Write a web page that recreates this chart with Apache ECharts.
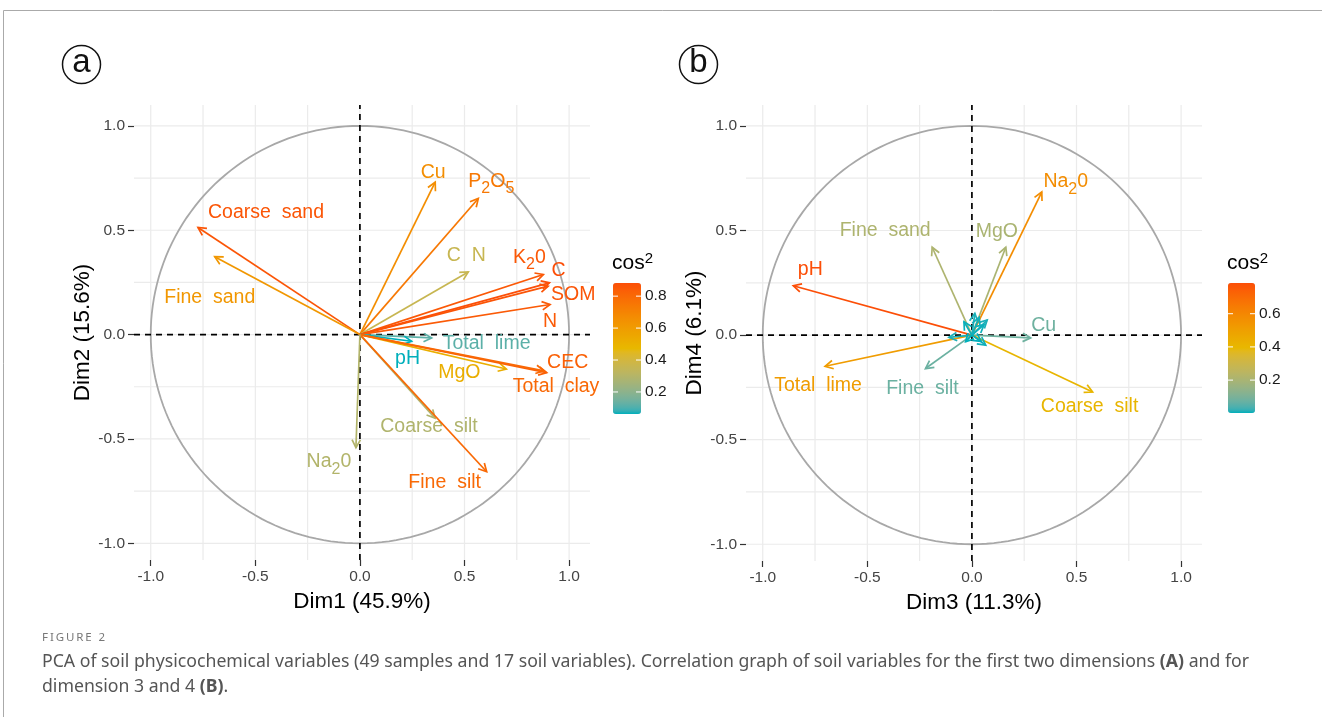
<!DOCTYPE html>
<html><head><meta charset="utf-8">
<script src="https://cdn.jsdelivr.net/npm/echarts@6/dist/echarts.min.js"></script>
<style>html,body{margin:0;padding:0;background:#fff}#c{width:1322px;height:717px}</style>
</head><body><div id="c"></div>
<script>
// ---------- DATA ----------
// Panel (a): Dim1 / Dim2 coordinates of the 17 soil variables
const varsA = ['Coarse sand','Fine sand','Cu','P2O5','C N','K20','C','SOM','N','Total lime','pH','MgO','CEC','Total clay','Coarse silt','Fine silt','Na20'];
const dim1  = [-0.774,-0.694, 0.360, 0.566, 0.518, 0.877, 0.906, 0.900, 0.909, 0.343, 0.247, 0.700, 0.893, 0.880, 0.359, 0.606,-0.019];
const dim2  = [ 0.513, 0.373, 0.730, 0.652, 0.300, 0.288, 0.248, 0.232, 0.144,-0.016,-0.032,-0.165,-0.182,-0.174,-0.400,-0.657,-0.542];
// Panel (b): Dim3 / Dim4 coordinates
const varsB = ['Na20','MgO','Fine sand','pH','Cu','Total lime','Fine silt','Coarse silt','Coarse sand','Total clay','SOM','C','N','C N','P2O5','K20','CEC'];
const dim3  = [ 0.334, 0.162,-0.190,-0.854, 0.281,-0.702,-0.222, 0.577,-0.110, 0.066, 0.073, 0.058, 0.014,-0.038,-0.030, 0.035, 0.045];
const dim4  = [ 0.684, 0.420, 0.420, 0.236,-0.013,-0.149,-0.160,-0.272,-0.011,-0.048, 0.072, 0.050, 0.104, 0.064,-0.032, 0.085,-0.030];
const axisTitles = ['Dim1 (45.9%)','Dim2 (15.6%)','Dim3 (11.3%)','Dim4 (6.1%)'];
const tickVals = [-1.0,-0.5,0.0,0.5,1.0];
const gridVals = [-1.0,-0.75,-0.5,-0.25,0.0,0.25,0.5,0.75,1.0];
const legendTicksA = [0.2,0.4,0.6,0.8];
const legendTicksB = [0.2,0.4,0.6];
const captionHead = 'FIGURE 2';
const captionL1 = ['PCA of soil physicochemical variables (49 samples and 17 soil variables). Correlation graph of soil variables for the first two dimensions ','(A)',' and for'];
const captionL2 = ['dimension 3 and 4 ','(B)','.'];

// ---------- LAYOUT / STYLE ----------
const F = "'Liberation Sans', Arial, Helvetica, sans-serif";
const EXT = {x:[-1.08,1.1], y:[-1.08,1.1]};
const BASE_COLORS = ['#00AFBB','#E7B800','#FC4E07'];
// interpolate gradient stops in CIELAB (as ggplot's gradientn does)
function hex2rgb(h){return [1,3,5].map(i=>parseInt(h.substr(i,2),16));}
function s2l(c){c/=255;return c<=0.04045?c/12.92:Math.pow((c+0.055)/1.055,2.4);}
function l2s(c){const v=c<=0.0031308?12.92*c:1.055*Math.pow(c,1/2.4)-0.055;return Math.round(Math.max(0,Math.min(1,v))*255);}
function rgb2lab(rgb){const [r,g,b]=rgb.map(s2l);
  const x=(0.4124564*r+0.3575761*g+0.1804375*b)/0.95047, y=(0.2126729*r+0.7151522*g+0.0721750*b), z=(0.0193339*r+0.1191920*g+0.9503041*b)/1.08883;
  const f=t=>t>0.008856?Math.cbrt(t):(7.787*t+16/116);
  const fx=f(x),fy=f(y),fz=f(z); return [116*fy-16,500*(fx-fy),200*(fy-fz)];}
function lab2hex(lab){const fy=(lab[0]+16)/116, fx=fy+lab[1]/500, fz=fy-lab[2]/200;
  const fi=t=>t>0.206893?t*t*t:(t-16/116)/7.787;
  const x=fi(fx)*0.95047, y=fi(fy), z=fi(fz)*1.08883;
  const r=3.2404542*x-1.5371385*y-0.4985314*z, g=-0.9692660*x+1.8760108*y+0.0415560*z, b=0.0556434*x-0.2040259*y+1.0572252*z;
  return '#'+[r,g,b].map(l2s).map(v=>v.toString(16).padStart(2,'0')).join('');}
function labRamp(cols, n){
  const labs=cols.map(c=>rgb2lab(hex2rgb(c))); const out=[];
  for(let i=0;i<n;i++){const t=i/(n-1)*(labs.length-1); const k=Math.min(Math.floor(t),labs.length-2); const u=t-k;
    out.push(lab2hex(labs[k].map((v,j)=>v+(labs[k+1][j]-v)*u)));}
  return out;
}
const COLORS = labRamp(BASE_COLORS, 41);
const labelOffA = {'Coarse sand':[68,-15],'Fine sand':[-5,41],'Cu':[-2,-10],'P2O5':[13,-17],'C N':[-2,-16],'K20':[-14,-17],
  'C':[9,-12],'SOM':[25,8],'N':[0,17],'Total lime':[55,6],'pH':[-4,17],'MgO':[-47,4],'CEC':[21,-10],'Total clay':[12,16],
  'Coarse silt':[-6,9],'Fine silt':[-42,11],'Na20':[-27,14]};
const labelOffB = {'Na20':[24,-10],'MgO':[-9,-16],'Fine sand':[-47,-17],'pH':[17,-16],'Cu':[13,-12],'Total lime':[-7,19],
  'Fine silt':[-3,20],'Coarse silt':[-3,15]};
const rich = {
  n:{fontSize:19.5, fontFamily:F},
  s:{fontSize:16, fontFamily:F, padding:[15,0,0,0]}
};
function disp(name){
  if (name==='P2O5') return '{n|P}{s|2}{n|O}{s|5}';
  if (name==='K20') return '{n|K}{s|2}{n|0}';
  if (name==='Na20') return '{n|Na}{s|2}{n|0}';
  return '{n|'+name.replace(/ /g,'  ')+'}';
}
const cos2 = (a,b)=>a.map((v,i)=>v*v+b[i]*b[i]);
const cA = cos2(dim1,dim2), cB = cos2(dim3,dim4);
const minA=Math.min(...cA), maxA=Math.max(...cA), minB=Math.min(...cB), maxB=Math.max(...cB);

function gridRender(params, api){
  const v = api.value(0);
  const a1=api.coord([v,EXT.y[0]]), a2=api.coord([v,EXT.y[1]]);
  const b1=api.coord([EXT.x[0],v]), b2=api.coord([EXT.x[1],v]);
  const st={stroke:'#EBEBEB', lineWidth:1.2};
  return {type:'group', children:[
    {type:'line', shape:{x1:a1[0],y1:a1[1],x2:a2[0],y2:a2[1]}, style:st},
    {type:'line', shape:{x1:b1[0],y1:b1[1],x2:b2[0],y2:b2[1]}, style:st}]};
}
function zeroRender(params, api){
  const a1=api.coord([0,EXT.y[0]]), a2=api.coord([0,EXT.y[1]]);
  const b1=api.coord([EXT.x[0],0]), b2=api.coord([EXT.x[1],0]);
  const st={stroke:'#000', lineWidth:1.7, lineDash:[6,5]};
  return {type:'group', children:[
    {type:'line', shape:{x1:a1[0],y1:a1[1],x2:a2[0],y2:a2[1]}, style:st},
    {type:'line', shape:{x1:b1[0],y1:b1[1],x2:b2[0],y2:b2[1]}, style:st}]};
}
function circleRender(params, api){
  const pts=[];
  for(let t=0;t<=360;t+=2){const r=t*Math.PI/180; pts.push(api.coord([Math.cos(r),Math.sin(r)]));}
  return {type:'polyline', shape:{points:pts}, style:{stroke:'#A8A8A8', lineWidth:1.8, fill:null}};
}
function arrowRender(names, offs){
  return function(params, api){
    const x=api.value(0), y=api.value(1);
    const o=api.coord([0,0]), p=api.coord([x,y]);
    const color=api.visual('color');
    const ang=Math.atan2(p[1]-o[1], p[0]-o[0]);
    const L=9, a=Math.PI/6.5;
    const h1=[p[0]-L*Math.cos(ang-a), p[1]-L*Math.sin(ang-a)];
    const h2=[p[0]-L*Math.cos(ang+a), p[1]-L*Math.sin(ang+a)];
    const name=names[params.dataIndex];
    const children=[
      {type:'line', shape:{x1:o[0],y1:o[1],x2:p[0],y2:p[1]}, style:{stroke:color, lineWidth:1.7}},
      {type:'polyline', shape:{points:[h1,p,h2]}, style:{stroke:color, lineWidth:1.7, fill:null}}
    ];
    const off=offs[name];
    if(off){
      children.push({type:'text', style:{text:disp(name), rich:rich, x:p[0]+off[0], y:p[1]+off[1],
        fill:color, align:'center', verticalAlign:'middle', textAlign:'center', textVerticalAlign:'middle',
        fontFamily:F, fontSize:19.5}});
    }
    return {type:'group', children};
  };
}
function xAx(gi, name){
  return {gridIndex:gi, type:'value', min:EXT.x[0], max:EXT.x[1], name:name, nameLocation:'middle', nameGap:24,
    nameTextStyle:{fontSize:22.5, color:'#000', fontFamily:F},
    splitLine:{show:false}, axisLine:{show:false, onZero:false},
    axisTick:{show:true, customValues:tickVals, length:6, lineStyle:{color:'#333', width:1.2}},
    axisLabel:{customValues:tickVals, formatter:v=>v.toFixed(1), color:'#444', fontSize:15.5, fontFamily:F, margin:9}};
}
function yAx(gi, name){
  return {gridIndex:gi, type:'value', min:EXT.y[0], max:EXT.y[1], name:name, nameLocation:'middle', nameGap:37,
    nameTextStyle:{fontSize:22.5, color:'#000', fontFamily:F},
    splitLine:{show:false}, axisLine:{show:false, onZero:false},
    axisTick:{show:true, customValues:tickVals, length:6, lineStyle:{color:'#333', width:1.2}},
    axisLabel:{customValues:tickVals, formatter:v=>v.toFixed(1), color:'#444', fontSize:15.5, fontFamily:F, margin:9}};
}
function panelSeries(gi, xs, ys, cs, names, offs){
  return [
    {type:'custom', xAxisIndex:gi, yAxisIndex:gi, silent:true, renderItem:gridRender, data:gridVals.map(v=>[v,v]), z:1},
    {type:'custom', xAxisIndex:gi, yAxisIndex:gi, silent:true, renderItem:circleRender, data:[[0,0]], z:2},
    {type:'custom', xAxisIndex:gi, yAxisIndex:gi, silent:true, renderItem:zeroRender, data:[[0,0]], z:3},
    {type:'custom', xAxisIndex:gi, yAxisIndex:gi, silent:true, renderItem:arrowRender(names, offs),
      encode:{x:0,y:1}, data:xs.map((v,i)=>[v, ys[i], cs[i]]), z:4}
  ];
}
const BAR = {a:{left:613, top:283, w:28, h:131}, b:{left:1228, top:283, w:27, h:130}};
function legendGraphics(bar, ticks, mn, mx){
  const g=[];
  ticks.forEach(v=>{
    const y=bar.top+(mx-v)/(mx-mn)*bar.h;
    g.push({type:'line', shape:{x1:bar.left, y1:y, x2:bar.left+5, y2:y}, style:{stroke:'#fff', lineWidth:1}, z:100});
    g.push({type:'line', shape:{x1:bar.left+bar.w-5, y1:y, x2:bar.left+bar.w, y2:y}, style:{stroke:'#fff', lineWidth:1}, z:100});
    g.push({type:'text', x:bar.left+bar.w+4, y:y, style:{text:v.toFixed(1), fill:'#1a1a1a', fontSize:15.5, fontFamily:F, textVerticalAlign:'middle', verticalAlign:'middle'}});
  });
  g.push({type:'text', x:bar.left-1, y:bar.top-20, style:{text:'{n|cos}{p|2}', fill:'#000', textVerticalAlign:'middle', verticalAlign:'middle',
    rich:{n:{fontSize:21, fontFamily:F, lineHeight:24, fill:'#000'}, p:{fontSize:15, fontFamily:F, lineHeight:8, verticalAlign:'top', fill:'#000'}}}});
  return g;
}
function fitSize(parts, family, target){
  const c=document.createElement('canvas').getContext('2d');
  let w=0; parts.forEach((t,i)=>{c.font=(i===1?'bold ':'')+'16px '+family; w+=c.measureText(t).width;});
  return 16*target/w;
}
const CF = "'Noto Sans', 'Open Sans', sans-serif";
const capSize = fitSize(captionL1, CF, 1208);
function capRich(parts, y){
  return {type:'text', x:42, y:y, style:{text:'{t|'+parts[0]+'}{b|'+parts[1]+'}{t|'+parts[2]+'}', textVerticalAlign:'middle', verticalAlign:'middle',
    rich:{t:{fontSize:capSize, fontFamily:CF, fill:'#555'}, b:{fontSize:capSize, fontFamily:CF, fontWeight:'bold', fill:'#555'}}}};
}

const chart = echarts.init(document.getElementById('c'), null, {renderer:'canvas'});
chart.setOption({
  backgroundColor:'#fff',
  animation:false,
  grid:[{left:134, top:105, width:456, height:455}, {left:746, top:105, width:456, height:456}],
  xAxis:[xAx(0, axisTitles[0]), xAx(1, axisTitles[2])],
  yAxis:[yAx(0, axisTitles[1]), yAx(1, axisTitles[3])],
  visualMap:[
    {type:'continuous', seriesIndex:3, dimension:2, min:minA, max:maxA, inRange:{color:COLORS}, calculable:false, hoverLink:false,
      left:BAR.a.left, top:BAR.a.top, itemWidth:BAR.a.w, itemHeight:BAR.a.h, padding:0, textGap:0, show:true},
    {type:'continuous', seriesIndex:7, dimension:2, min:minB, max:maxB, inRange:{color:COLORS}, calculable:false, hoverLink:false,
      left:BAR.b.left, top:BAR.b.top, itemWidth:BAR.b.w, itemHeight:BAR.b.h, padding:0, textGap:0, show:true}
  ],
  series:[...panelSeries(0, dim1, dim2, cA, varsA, labelOffA), ...panelSeries(1, dim3, dim4, cB, varsB, labelOffB)],
  graphic:[
    {type:'line', shape:{x1:3.5,y1:10.5,x2:1322,y2:10.5}, style:{stroke:'#aaa', lineWidth:1}},
    {type:'line', shape:{x1:3.5,y1:10.5,x2:3.5,y2:717}, style:{stroke:'#aaa', lineWidth:1}},
    {type:'circle', shape:{cx:81.5, cy:64.5, r:19}, style:{fill:null, stroke:'#111', lineWidth:1.5}},
    {type:'text', x:81.5, y:63, style:{text:'a', fontSize:33, fontFamily:F, fill:'#111', textAlign:'center', align:'center', textVerticalAlign:'middle', verticalAlign:'middle'}},
    {type:'circle', shape:{cx:698.5, cy:64.5, r:19}, style:{fill:null, stroke:'#111', lineWidth:1.5}},
    {type:'text', x:698.5, y:63, style:{text:'b', fontSize:33, fontFamily:F, fill:'#111', textAlign:'center', align:'center', textVerticalAlign:'middle', verticalAlign:'middle'}},
    ...legendGraphics(BAR.a, legendTicksA, minA, maxA),
    ...legendGraphics(BAR.b, legendTicksB, minB, maxB),
    {type:'text', x:42, y:638, style:{text:captionHead.split('').join('\u2009'), fontSize:11.5, fontFamily:CF, fill:'#777', textVerticalAlign:'middle', verticalAlign:'middle'}},
    capRich(captionL1, 662),
    capRich(captionL2, 687)
  ]
});
</script>
</body></html>
